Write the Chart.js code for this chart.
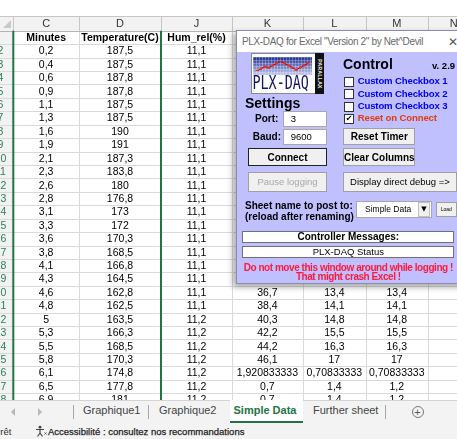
<!DOCTYPE html>
<html>
<head>
<meta charset="utf-8">
<script src="https://cdn.jsdelivr.net/npm/chart.js@4.4.1/dist/chart.umd.min.js"></script>
<style>
html,body{margin:0;padding:0}
body{width:457px;height:439px;overflow:hidden;position:relative;background:#fff;font-family:"Liberation Sans",Arial,sans-serif}
#sheet{position:absolute;left:0;top:0}
.a{position:absolute;white-space:nowrap;box-sizing:border-box}
.btn{background:#f0f0f0;border:1px solid #a0a0a0;display:flex;align-items:center;justify-content:center;font-weight:bold;font-size:10px;color:#000}
.box{background:#fff;border:1px solid #a8a8a8}
#tabs{position:absolute;left:0;top:400px;width:457px;height:23px;background:#f3f3f3;border-top:1px solid #d4d4d4;box-sizing:border-box}
#status{position:absolute;left:0;top:423px;width:457px;height:16px;background:#f3f3f3;font-size:9.5px;color:#333}
</style>
</head>
<body>
<canvas id="sheet" width="457" height="439"></canvas>
<div id="dlg"></div>
<div id="tabs"></div>
<div id="status"></div>
<script>
// spreadsheet data (Simple Data sheet)
const columns = ['C', 'D', 'J', 'K', 'L', 'M', 'N'];
const headers = ['Minutes', 'Temperature(C)', 'Hum_rel(%)', '', '', '', ''];
const minutes = [0.2, 0.4, 0.6, 0.9, 1.1, 1.3, 1.6, 1.9, 2.1, 2.3, 2.6, 2.8, 3.1, 3.3, 3.6, 3.8, 4.1, 4.3, 4.6, 4.8, 5, 5.3, 5.5, 5.8, 6.1, 6.5, 6.9];
const temperature = [187.5, 187.5, 187.8, 187.8, 187.5, 187.5, 190, 191, 187.3, 183.8, 180, 176.8, 173, 172, 170.3, 168.5, 166.8, 164.5, 162.8, 162.5, 163.5, 166.3, 168.5, 170.3, 174.8, 177.8, 181];
const humRel = [11.1, 11.1, 11.1, 11.1, 11.1, 11.1, 11.1, 11.1, 11.1, 11.1, 11.1, 11.1, 11.1, 11.1, 11.1, 11.1, 11.1, 11.1, 11.1, 11.1, 11.2, 11.2, 11.2, 11.2, 11.2, 11.2, 11.2];
// K, L, M are hidden behind the PLX-DAQ window for the first 18 rows
const hidden = new Array(18).fill(null);
const colK = hidden.concat([36.7, 38.4, 40.3, 42.2, 44.2, 46.1, 1.920833333, 0.7, 0.7]);
const colL = hidden.concat([13.4, 14.1, 14.8, 15.5, 16.3, 17, 0.70833333, 1.4, 1.4]);
const colM = hidden.concat([13.4, 14.1, 14.8, 15.5, 16.3, 17, 0.70833333, 1.2, 1.2]);
const firstRow = 2;
// zigzag of the PLX-DAQ logo
const logoWave = [0, 1, 2, 1.5, 2.5, 3.5, 4.5, 3.5, 2.5, 1.5, 0.5, 1.5, 2.5, 3.5];

const cells = [minutes, temperature, humRel, colK, colL, colM, []];
// layout of the sheet (x in pixels, rows in row units)
const colEdges = [13.3, 79, 161, 232, 302.7, 366, 427.5, 480];
const fmt = v => String(v).replace('.', ',');

const sheetPlugin = {
  id: 'sheet',
  beforeDraw(chart) {
    const {ctx, scales: {x, y}} = chart;
    const W = chart.width, H = chart.height;
    const X = v => x.getPixelForValue(v), Y = v => y.getPixelForValue(v);
    const hTop = 16, hBot = Y(-1.5);
    const line = (x1, y1, x2, y2) => { ctx.beginPath(); ctx.moveTo(x1, y1); ctx.lineTo(x2, y2); ctx.stroke(); };
    ctx.save();
    ctx.fillStyle = '#fff';
    ctx.fillRect(0, 0, W, H);
    ctx.fillStyle = '#f2f2f2';
    ctx.fillRect(0, hTop, W, hBot - hTop);
    ctx.fillRect(0, hBot, X(colEdges[0]), H - hBot);

    // cell grid
    ctx.lineWidth = 1;
    ctx.strokeStyle = '#dadada';
    for (let r = -1; r <= 30; r++) {
      const py = Math.round(Y(r - 0.5)) + 0.5;
      if (py > hBot + 1) line(0, py, W, py);
    }
    colEdges.forEach(e => line(Math.round(X(e)) + 0.5, hBot, Math.round(X(e)) + 0.5, H));
    ctx.strokeStyle = '#c6c6c6';
    colEdges.forEach(e => line(Math.round(X(e)) + 0.5, hTop, Math.round(X(e)) + 0.5, hBot));
    line(0, hTop + 0.5, W, hTop + 0.5);
    ctx.strokeStyle = '#b4b4b4';
    line(0, Math.round(hBot) + 0.5, W, Math.round(hBot) + 0.5);

    // select-all corner
    ctx.fillStyle = '#c8c8c8';
    ctx.beginPath(); ctx.moveTo(11, 20); ctx.lineTo(11, 28); ctx.lineTo(3, 28); ctx.fill();

    // selection borders
    ctx.strokeStyle = '#217346';
    ctx.lineWidth = 2;
    [colEdges[0], colEdges[2]].forEach(e => line(X(e), hBot, X(e), H));

    ctx.textAlign = 'center';
    ctx.textBaseline = 'middle';
    // column letters
    ctx.fillStyle = '#333';
    ctx.font = '11px "Liberation Sans", Arial';
    columns.forEach((c, i) => ctx.fillText(c, X((colEdges[i] + colEdges[i + 1]) / 2), (hTop + hBot) / 2 + 0.5));
    // header labels
    ctx.fillStyle = '#000';
    ctx.font = 'bold 10.5px "Liberation Sans", Arial';
    headers.forEach((h, i) => ctx.fillText(h, X((colEdges[i] + colEdges[i + 1]) / 2), Y(-1) + 0.5));
    // values
    ctx.font = '10.5px "Liberation Sans", Arial';
    cells.forEach((arr, i) => {
      const cx = X((colEdges[i] + colEdges[i + 1]) / 2);
      arr.forEach((v, r) => { if (v !== null) ctx.fillText(fmt(v), cx, Y(r) + 0.5); });
    });
    // row numbers (row header cut at the left edge)
    ctx.fillStyle = '#2f7d5a';
    ctx.font = '10.5px "Liberation Sans", Arial';
    minutes.forEach((v, r) => ctx.fillText(String(r + firstRow), X(0.5), Y(r) + 0.5));
    ctx.restore();
  }
};

new Chart(document.getElementById('sheet'), {
  type: 'scatter',
  data: {datasets: []},
  options: {
    responsive: false,
    animation: false,
    events: [],
    layout: {padding: 0},
    plugins: {legend: {display: false}, tooltip: {enabled: false}},
    scales: {
      x: {type: 'linear', display: false, min: 0, max: 457, bounds: 'data'},
      y: {type: 'linear', display: false, reverse: true, min: -3.794, max: 28.919, bounds: 'data'}
    }
  },
  plugins: [sheetPlugin]
});

// PLX-DAQ window, positions in page pixels
const dlgX = 236, dlgY = 30;
const dlg = document.getElementById('dlg');
Object.assign(dlg.style, {position: 'absolute', left: dlgX + 'px', top: dlgY + 'px', width: '240px', height: '254px',
  background: '#c0c0ff', border: '1px solid #8c8cb0', boxSizing: 'border-box', boxShadow: '-3px 3px 6px rgba(0,0,0,.35)'});

function put(parent, px, py, w, h, html, cls, css) {
  const d = document.createElement('div');
  d.className = 'a ' + (cls || '');
  const ox = parent === dlg ? dlgX + 1 : 0, oy = parent === dlg ? dlgY + 1 : 0;
  d.style.left = (px - ox) + 'px';
  d.style.top = (py - oy) + 'px';
  if (w) d.style.width = w + 'px';
  if (h) d.style.height = h + 'px';
  d.innerHTML = html;
  if (css) d.style.cssText += css;
  parent.appendChild(d);
  return d;
}
// text with its visual centre at yc
const txt = (parent, px, yc, html, css) => put(parent, px, yc - 10, 0, 20, html, '', 'line-height:20px;' + (css || ''));

put(dlg, 237, 31, 240, 21, '', '', 'background:#fff');
txt(dlg, 242, 41.5, 'PLX-DAQ for Excel "Version 2" by Net^Devil', 'font-size:10px;color:#6a6a6a;letter-spacing:-0.35px');
txt(dlg, 448, 41.5, '&#x2715;', 'font-size:12px;color:#555;font-family:"DejaVu Sans"');

// logo
put(dlg, 250.7, 53.3, 65, 41, '', '', 'background:#fff;border:1px solid #8a8a8a');
const logo = put(dlg, 252.7, 56.7, 59, 18, '<canvas id="logo" width="59" height="18"></canvas>');
txt(dlg, 252.5, 83.3, 'PLX-DAQ', 'font-family:"DejaVu Sans Mono",monospace;font-size:13.4px;color:#14146a;transform:scaleY(1.42);transform-origin:0 50%');
put(dlg, 315, 53.3, 9, 41, 'PARALLAX', '', 'background:#111;color:#eee;font-size:5.5px;writing-mode:vertical-rl;text-align:center;line-height:9px;font-weight:bold');

txt(dlg, 245, 102.5, 'Settings', 'font-size:14px;font-weight:bold');
txt(dlg, 343, 64, 'Control', 'font-size:14px;font-weight:bold');
txt(dlg, 432, 66, 'v. 2.9', 'font-size:9.5px;font-weight:bold');

const checks = ['Custom Checkbox 1', 'Custom Checkbox 2', 'Custom Checkbox 3', 'Reset on Connect'];
const checkY = [76.7, 89, 101.7, 113.5];
checks.forEach((c, i) => {
  put(dlg, 344, checkY[i], 10, 10, i === 3 ? '&#x2714;' : '', 'box',
    'border-color:#333;font-size:8px;line-height:8px;text-align:center;font-family:"DejaVu Sans"');
  txt(dlg, 357.7, checkY[i] + 4.6, c, 'font-size:9.6px;font-weight:bold;letter-spacing:-0.15px;color:' + (i === 3 ? '#e03c10' : '#0000f0'));
});

txt(dlg, 255, 119, 'Port:', 'font-size:10px;font-weight:bold');
put(dlg, 282.7, 111, 44, 15.5, '3', 'box', 'font-size:9.5px;line-height:13.5px;padding-left:7px');
txt(dlg, 252.7, 136.7, 'Baud:', 'font-size:10px;font-weight:bold');
put(dlg, 282.7, 129.3, 44, 15.7, '9600', 'box', 'font-size:9.5px;line-height:13.5px;padding-left:7px');

put(dlg, 343.3, 128.3, 72, 16.7, 'Reset Timer', 'btn');
put(dlg, 248.3, 148.3, 78.4, 17.7, 'Connect', 'btn', 'border:1.5px solid #222');
put(dlg, 343.3, 148.3, 72, 17.7, 'Clear Columns', 'btn');
put(dlg, 248.3, 171.7, 78.4, 20, 'Pause logging', 'btn', 'color:#a8a8a8;font-weight:normal;font-size:9.5px');
put(dlg, 343.3, 171.7, 113.4, 20, 'Display direct debug =&gt;', 'btn', 'font-weight:normal;font-size:9.5px');

txt(dlg, 245, 205.8, 'Sheet name to post to:', 'font-size:10px;font-weight:bold');
txt(dlg, 245, 216.8, '(reload after renaming)', 'font-size:10px;font-weight:bold');
put(dlg, 356, 200.7, 75.7, 17.6, 'Simple Data', 'box', 'font-size:8.5px;line-height:15.6px;padding-left:8px');
put(dlg, 418, 202.2, 12, 14.6, '&#x25BC;', 'btn', 'font-size:7px;font-family:"DejaVu Sans";border-color:#c0c0c0');
put(dlg, 435.7, 201.7, 21.3, 15.6, 'Load', 'btn', 'font-size:5px;font-weight:normal');

put(dlg, 242.3, 230.7, 212, 12.6, 'Controller Messages:', 'box', 'border-color:#707070;font-size:10px;font-weight:bold;text-align:center;line-height:10.6px');
put(dlg, 242.3, 246, 212, 12.3, 'PLX-DAQ Status', 'box', 'border-color:#707070;font-size:9.5px;text-align:center;line-height:10.3px');
const warn = 'font-size:10px;font-weight:bold;color:#ff1a3c;text-align:center;line-height:20px;letter-spacing:-0.45px';
put(dlg, 242.3, 257.7, 212, 20, 'Do not move this window around while logging !', '', warn);
put(dlg, 242.3, 267.3, 212, 20, 'That might crash Excel !', '', warn);

new Chart(document.getElementById('logo'), {
  type: 'line',
  data: {
    labels: logoWave.map((v, i) => i),
    datasets: [{data: logoWave, borderColor: '#7a0a10', borderWidth: 1, pointStyle: 'rect',
      pointRadius: 1.7, pointBackgroundColor: '#ff2424', pointBorderWidth: 0, tension: 0}]
  },
  options: {
    responsive: false,
    animation: false,
    events: [],
    layout: {padding: {left: 2, right: 2, top: 2, bottom: 2}},
    plugins: {legend: {display: false}, tooltip: {enabled: false}},
    scales: {x: {display: false}, y: {display: false, min: 0, max: 4.5}}
  },
  plugins: [{
    id: 'logoBg',
    beforeDraw(chart) {
      const {ctx, width, height} = chart;
      const g = ctx.createLinearGradient(0, 0, 0, height);
      g.addColorStop(0, '#1a2a8c');
      g.addColorStop(1, '#c2cbf0');
      ctx.fillStyle = g;
      ctx.fillRect(0, 0, width, height);
      ctx.fillStyle = 'rgba(255,255,255,0.25)';
      for (let i = 0; i < width; i += 3) ctx.fillRect(i, 0, 1, height);
      for (let j = 0; j < height; j += 3) ctx.fillRect(0, j, width, 1);
    }
  }]
});

// sheet tabs
const tabs = document.getElementById('tabs');
put(tabs, 11, 7, 0, 0, '', '', 'border:4px solid transparent;border-right:4px solid #b8b8b8;border-left:0');
put(tabs, 38, 7, 0, 0, '', '', 'border:4px solid transparent;border-left:4px solid #b8b8b8;border-right:0');
put(tabs, 73, 4, 1, 14, '', '', 'background:#a8a8a8');
put(tabs, 148, 4, 1, 14, '', '', 'background:#a8a8a8');
put(tabs, 230, -1, 73, 23, '', '', 'background:#fff;border-bottom:2px solid #217346');
txt(tabs, 83, 9, 'Graphique1', 'font-size:11px;color:#444');
txt(tabs, 159, 9, 'Graphique2', 'font-size:11px;color:#444');
txt(tabs, 233.5, 9, 'Simple Data', 'font-size:11px;color:#217346;font-weight:bold');
txt(tabs, 313, 9, 'Further sheet', 'font-size:11px;color:#444');
put(tabs, 385, 4, 1, 14, '', '', 'background:#a8a8a8');
put(tabs, 411.5, 5, 12, 12, '+', '', 'border:1px solid #777;border-radius:50%;font-size:11px;line-height:10px;text-align:center;color:#555');

// status bar
const status = document.getElementById('status');
txt(status, -6, 9, 'Prêt', 'font-size:9.5px;color:#333');
put(status, 34, 2, 13, 13, '<svg width="13" height="13" viewBox="0 0 13 13"><circle cx="6" cy="2.2" r="1.4" fill="#444"/><path d="M2 4.5h8M6 4.5v3.5M6 8l-2.5 3.5M6 8l2.5 3.5" stroke="#444" stroke-width="1.2" fill="none"/><path d="M10.5 7.5l2 2M12.5 7.5l-2 2" stroke="#444" stroke-width="0.9"/></svg>');
txt(status, 48, 9, 'Accessibilité : consultez nos recommandations', 'font-size:9.5px;color:#222;-webkit-text-stroke:0.25px #222');
</script>
</body>
</html>
